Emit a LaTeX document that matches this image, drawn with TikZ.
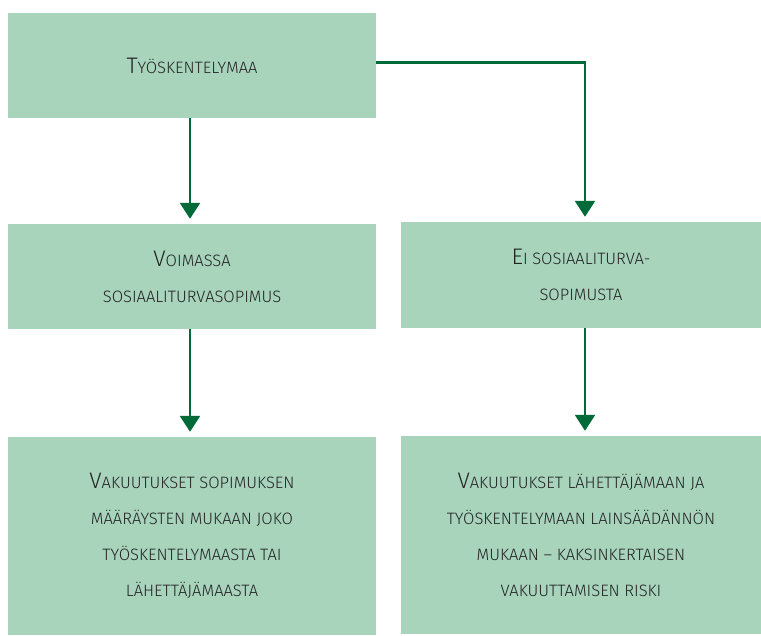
\documentclass[tikz,border=0pt]{standalone}
\usepackage{fontspec}
\setmainfont{Fira Sans Light}
\usetikzlibrary{positioning, arrows.meta}
\definecolor{boxgreen}{HTML}{A8D4BC}
\definecolor{arrowgreen}{HTML}{006B38}
\definecolor{textgrey}{HTML}{222222}
\newcommand{\pienet}[1]{{\fontsize{16.5}{36}\selectfont\MakeUppercase{#1}}}
\newcommand{\isot}[1]{{\fontsize{22.5}{36}\selectfont #1}}
\tikzset{
laatikko/.style={fill=boxgreen, draw=none, text=textgrey, align=center, inner sep=0pt,
  font=\fontsize{16.5}{36}\selectfont},
nuoli/.style={draw=arrowgreen, line width=2.6pt, -{Triangle[length=16pt, width=20pt]}, shorten >=5pt},
}

\begin{document}
\begin{tikzpicture}[x=1pt, y=-1pt]
            \useasboundingbox (0,0) rectangle (761,636);
            \node[laatikko, minimum width=368pt, minimum height=105pt] (tyomaa) at (192,65.5)
                {\isot{T}\pienet{yöskentelymaa}};
            \node[laatikko, minimum width=368pt, minimum height=105pt] (voimassa) at (192,276.5)
                {\isot{V}\pienet{oimassa}\\\pienet{sosiaaliturvasopimus}};
            \node[laatikko, minimum width=360pt, minimum height=106pt] (eisopimus) at (581,275)
                {\isot{E}\pienet{i sosiaaliturva-}\\\pienet{sopimusta}};
            \node[laatikko, minimum width=368pt, minimum height=198pt] (vakvasen) at (192,536)
                {\isot{V}\pienet{akuutukset sopimuksen}\\
                 \pienet{määräysten mukaan joko}\\
                 \pienet{työskentelymaasta tai}\\
                 \pienet{lähettäjämaasta}};
            \node[laatikko, minimum width=360pt, minimum height=198pt] (vakoikea) at (581,535)
                {\isot{V}\pienet{akuutukset lähettäjämaan ja}\\
                 \pienet{työskentelymaan lainsäädännön}\\
                 \pienet{mukaan -- kaksinkertaisen}\\
                 \pienet{vakuuttamisen riski}};
            \draw[nuoli] ([xshift=-2pt]tyomaa.south)--([xshift=-2pt]voimassa.north);
            \draw[nuoli] ([yshift=3pt]tyomaa.east)-|([xshift=4pt]eisopimus.north);
            \draw[nuoli] ([xshift=-2pt]voimassa.south)--([xshift=-2pt]vakvasen.north);
            \draw[nuoli] ([xshift=4pt]eisopimus.south)--([xshift=4pt]vakoikea.north);
        \end{tikzpicture}
\end{document}
